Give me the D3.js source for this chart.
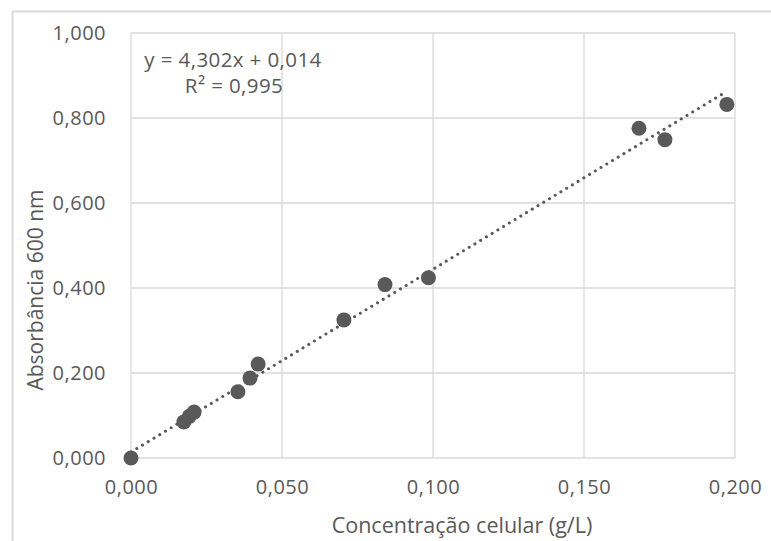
<!DOCTYPE html>
<meta charset="utf-8">
<style>
body { margin: 0; background: #fff; }
text { font-family: "Open Sans", sans-serif; fill: #595959; }
</style>
<svg width="771" height="541"></svg>
<script src="https://cdn.jsdelivr.net/npm/d3@7"></script>
<script>

// concentração (g/L) e absorbância
var conc = [0.000, 0.0175, 0.0193, 0.0209, 0.0354, 0.0394, 0.0421, 0.0705, 0.0841, 0.0985, 0.1682, 0.1768, 0.1973];
var abs  = [0.000, 0.085, 0.098, 0.108, 0.156, 0.188, 0.221, 0.325, 0.408, 0.424, 0.776, 0.749, 0.832];
var xTicks = [0, 0.05, 0.1, 0.15, 0.2];
var yTicks = [0, 0.2, 0.4, 0.6, 0.8, 1.0];
var slope = 4.302, intercept = 0.014;

var svg = d3.select("svg"),
    margin = {top: 33, right: 36, bottom: 83, left: 131},
    width = +svg.attr("width") - margin.left - margin.right,
    height = +svg.attr("height") - margin.top - margin.bottom;

var fmt = function(v) { return d3.format(".3f")(v).replace(".", ","); };

// moldura da área do gráfico
svg.append("path")
    .attr("d", "M12.5,541V11.5H771")
    .attr("fill", "none")
    .attr("stroke", "#d9d9d9")
    .attr("stroke-width", 2);

var g = svg.append("g")
    .attr("transform", "translate(" + margin.left + "," + margin.top + ")");

var x = d3.scaleLinear().domain([0, 0.2]).range([0, width]);
var y = d3.scaleLinear().domain([0, 1]).range([height, 0]);

// grade
g.append("g").selectAll("line").data(xTicks).enter().append("line")
    .attr("x1", function(d) { return x(d); }).attr("x2", function(d) { return x(d); })
    .attr("y1", 0).attr("y2", height)
    .attr("stroke", "#d9d9d9").attr("stroke-width", 1.3);
g.append("g").selectAll("line").data(yTicks).enter().append("line")
    .attr("y1", function(d) { return y(d); }).attr("y2", function(d) { return y(d); })
    .attr("x1", 0).attr("x2", width)
    .attr("stroke", "#d9d9d9").attr("stroke-width", 1.3);

// rótulos dos eixos
var xAxis = g.append("g")
    .attr("transform", "translate(0," + height + ")")
    .call(d3.axisBottom(x).tickValues(xTicks).tickFormat(fmt).tickSize(0).tickPadding(22));
xAxis.select(".domain").remove();
xAxis.selectAll("text").style("font-size", "20px").style("letter-spacing", "0.5px")
    .attr("fill", "#595959").attr("font-family", null);

var yAxis = g.append("g")
    .call(d3.axisLeft(y).tickValues(yTicks).tickFormat(fmt).tickSize(0).tickPadding(25));
yAxis.select(".domain").remove();
yAxis.selectAll("text").style("font-size", "20px").style("letter-spacing", "0.5px")
    .attr("fill", "#595959").attr("font-family", null);

// linha de tendência
var xs = d3.extent(conc);
var trend = xs.map(function(v) { return [v, slope * v + intercept]; });
g.append("path")
    .datum(trend)
    .attr("fill", "none")
    .attr("stroke", "#595959")
    .attr("stroke-width", 3)
    .attr("stroke-linecap", "round")
    .attr("stroke-dasharray", "0.1 6.6")
    .attr("d", d3.line().x(function(d) { return x(d[0]); }).y(function(d) { return y(d[1]); }));

// pontos
g.append("g").selectAll("circle").data(conc).enter().append("circle")
    .attr("cx", function(d) { return x(d); })
    .attr("cy", function(d, i) { return y(abs[i]); })
    .attr("r", 7.5)
    .attr("fill", "#595959");

// equação
svg.append("text")
    .attr("x", 233).attr("y", 67)
    .attr("text-anchor", "middle")
    .style("font-size", "20.5px")
    .style("letter-spacing", "0.4px")
    .text("y = 4,302x + 0,014");
svg.append("text")
    .attr("x", 234).attr("y", 93)
    .attr("text-anchor", "middle")
    .style("font-size", "20.5px")
    .style("letter-spacing", "0.4px")
    .text("R² = 0,995");

// títulos
svg.append("text")
    .attr("x", 462).attr("y", 533)
    .attr("text-anchor", "middle")
    .style("font-size", "21.5px")
    .text("Concentração celular (g/L)");
svg.append("text")
    .attr("transform", "translate(43,290) rotate(-90)")
    .attr("text-anchor", "middle")
    .style("font-size", "21px")
    .text("Absorbância 600 nm");

</script>
